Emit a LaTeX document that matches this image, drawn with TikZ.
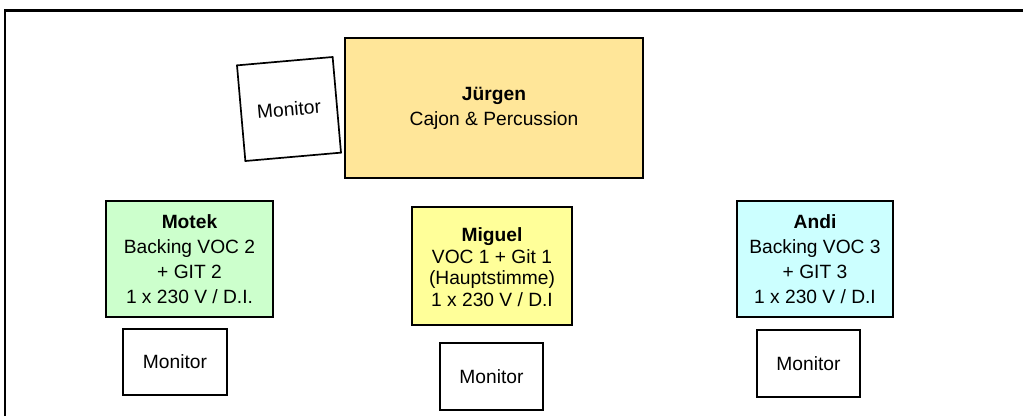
\documentclass[tikz,border=0pt]{standalone}
\usepackage{fontspec}
\setmainfont{Liberation Sans}
\usepackage{tikz}
\definecolor{JUcolor}{HTML}{ffe699}
\definecolor{MOcolor}{HTML}{ccffcc}
\definecolor{MIcolor}{HTML}{ffff99}
\definecolor{ANcolor}{HTML}{ccffff}

\begin{document}
\begin{tikzpicture}[x=1pt, y=-1pt]

    \tikzset{%
        stagebox/.style={draw=black, line width=1.7pt, align=center, inner sep=0pt,
                font=\fontsize{19.2}{25}\selectfont},
        monbox/.style={stagebox, fill=white},
    }

    \useasboundingbox (0, 0) rectangle (1023, 416);

    % frame, only top and left edge visible
    \draw [line width=2pt] (5, 416) -- (5, 10);
    \draw [line width=3pt] (4, 10) -- (1023, 10);

    % drums
    \node [stagebox, fill=JUcolor, minimum width=298, minimum height=140] (juergen) at (494, 108)
        {\textbf{Jürgen}\\Cajon \& Percussion};
    \node [monbox, minimum width=96, minimum height=96, rotate=5] (monJ) at (289, 109) {Monitor};

    % front line
    \node [stagebox, fill=MOcolor, minimum width=167, minimum height=116] (motek) at (189.5, 259)
        {\textbf{Motek}\\Backing VOC 2\\+ GIT 2\\1 x 230 V / D.I.};
    \node [stagebox, fill=MIcolor, minimum width=160, minimum height=118,
        font=\fontsize{19.2}{21.7}\selectfont] (miguel) at (492, 266)
        {\rule{0pt}{16pt}\textbf{Miguel}\\VOC 1 + Git 1\\(Hauptstimme)\\1 x 230 V / D.I};
    \node [stagebox, fill=ANcolor, minimum width=156, minimum height=116] (andi) at (815, 259)
        {\textbf{Andi}\\Backing VOC 3\\+ GIT 3\\1 x 230 V / D.I};

    % monitors
    \node [monbox, minimum width=104, minimum height=66] (monMo) at (175, 362) {Monitor};
    \node [monbox, minimum width=103, minimum height=67] (monMi) at (491.5, 376.5) {Monitor};
    \node [monbox, minimum width=103, minimum height=67] (monAn) at (808.5, 363.5) {Monitor};

\end{tikzpicture}
\end{document}
